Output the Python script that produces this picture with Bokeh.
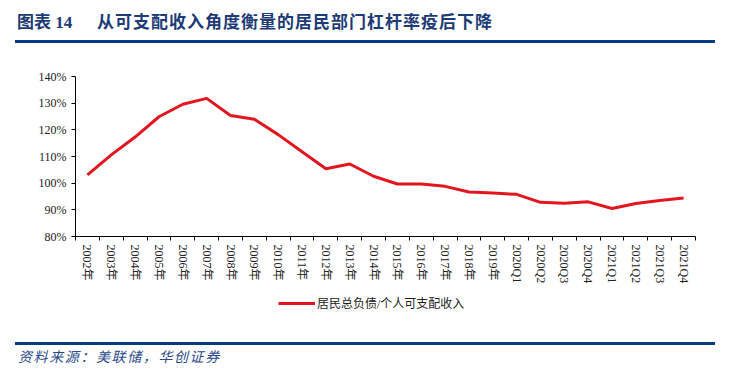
import math
from bokeh.plotting import figure
from bokeh.layouts import column
from bokeh.models import (Range1d, FixedTicker, NumeralTickFormatter, Legend, LegendItem, Div)
from bokeh.embed import file_html
from bokeh.resources import INLINE

categories = ["2002年", "2003年", "2004年", "2005年", "2006年", "2007年", "2008年", "2009年",
              "2010年", "2011年", "2012年", "2013年", "2014年", "2015年", "2016年", "2017年",
              "2018年", "2019年", "2020Q1", "2020Q2", "2020Q3", "2020Q4",
              "2021Q1", "2021Q2", "2021Q3", "2021Q4"]
ratio_pct = [103.1, 110.6, 117.3, 124.9, 129.6, 131.8, 125.4, 124.0,
             118.2, 111.8, 105.4, 107.2, 102.6, 99.7, 99.7, 98.8,
             96.7, 96.3, 95.8, 92.8, 92.5, 93.0, 90.5, 92.4, 93.5, 94.4]
y_ticks = [0.8, 0.9, 1.0, 1.1, 1.2, 1.3, 1.4]
series_name = "居民总负债/个人可支配收入"
title_label = "图表 14"
title_text = "从可支配收入角度衡量的居民部门杠杆率疫后下降"
source_text = "资料来源：美联储，华创证券"

SERIF = "Liberation Serif, Noto Sans CJK SC"
CSS_SERIF = "'Liberation Serif', 'Noto Sans CJK SC', serif"
BLUE = "#073c82"
TITLE_BLUE = "#1d3b76"
RED = "#e3161f"
W = 729
FL, FR = 75, 695

# ---------- header ----------
header_html = f"""
<div style="position:relative;width:{W}px;height:50px;margin:0;padding:0;">
  <span style="position:absolute;left:17px;top:12px;font:bold 17px {CSS_SERIF};
        color:{TITLE_BLUE};line-height:22px;white-space:nowrap;">{title_label}</span>
  <span style="position:absolute;left:97px;top:12px;font:bold 17px {CSS_SERIF};letter-spacing:1px;
        color:{TITLE_BLUE};line-height:22px;white-space:nowrap;">{title_text}</span>
  <div style="position:absolute;left:15px;top:40px;width:700px;height:3px;background:{BLUE};"></div>
</div>"""
header = Div(text=header_html, width=W, height=50, margin=0)

# ---------- main chart ----------
xs = [i + 0.5 for i in range(len(categories))]
ys = [v / 100 for v in ratio_pct]

p = figure(width=W, height=240, x_range=Range1d(0, len(categories)),
           y_range=Range1d(0.8, 1.4), output_backend="svg", toolbar_location=None,
           min_border_left=FL, min_border_right=W - FR, min_border_top=26,
           min_border_bottom=54, margin=0)
p.grid.visible = False
p.outline_line_color = None
p.line(xs, ys, line_color=RED, line_width=3)

p.xaxis.ticker = FixedTicker(ticks=xs, minor_ticks=list(range(len(categories) + 1)))
p.xaxis.major_label_overrides = {x: c for x, c in zip(xs, categories)}
p.xaxis.major_label_orientation = -math.pi / 2
p.xaxis.major_tick_out = 0
p.xaxis.major_tick_in = 0
p.xaxis.minor_tick_out = 4
p.xaxis.minor_tick_in = 0
p.xaxis.minor_tick_line_color = "black"
p.xaxis.major_label_standoff = 4

p.yaxis.ticker = FixedTicker(ticks=y_ticks)
p.yaxis.formatter = NumeralTickFormatter(format="0%")
p.yaxis.major_tick_out = 4
p.yaxis.major_tick_in = 0
p.yaxis.minor_tick_line_color = None
p.yaxis.major_label_standoff = 5

for ax in (p.xaxis, p.yaxis):
    ax.axis_line_color = "black"
    ax.major_tick_line_color = "black"
    ax.major_label_text_font = SERIF
    ax.major_label_text_font_size = "12px"
    ax.major_label_text_color = "#222222"

# ---------- legend strip ----------
lg = figure(width=W, height=30, x_range=Range1d(0, 1), y_range=Range1d(0, 1),
            output_backend="svg", toolbar_location=None, min_border_left=FL,
            min_border_right=W - FR, min_border_top=0, min_border_bottom=0, margin=0)
lg.axis.visible = False
lg.grid.visible = False
lg.outline_line_color = None
# key glyph only (kept outside the visible range of this strip)
key = lg.line(x=[5, 6], y=[5, 6], line_color=RED, line_width=3)
legend = Legend(items=[LegendItem(label=series_name, renderers=[key])],
                location=(278 - FL, 8),
                glyph_width=37, glyph_height=12, label_height=12, label_standoff=2,
                padding=0, margin=0, border_line_color=None, background_fill_alpha=0,
                label_text_font=SERIF, label_text_font_size="12px",
                label_text_color="#222222")
lg.add_layout(legend)

# ---------- footer ----------
footer_html = f"""
<div style="position:relative;width:{W}px;height:57px;margin:0;padding:0;">
  <div style="position:absolute;left:15px;top:22px;width:700px;height:3px;background:{BLUE};"></div>
  <span style="position:absolute;left:18px;top:29px;font:italic 14px {CSS_SERIF};letter-spacing:1.6px;
        color:#2a4a8a;line-height:18px;white-space:nowrap;">{source_text}</span>
</div>"""
footer = Div(text=footer_html, width=W, height=57, margin=0)

layout = column(header, p, lg, footer, spacing=0)
open("out.html", "w").write(file_html(layout, INLINE))
